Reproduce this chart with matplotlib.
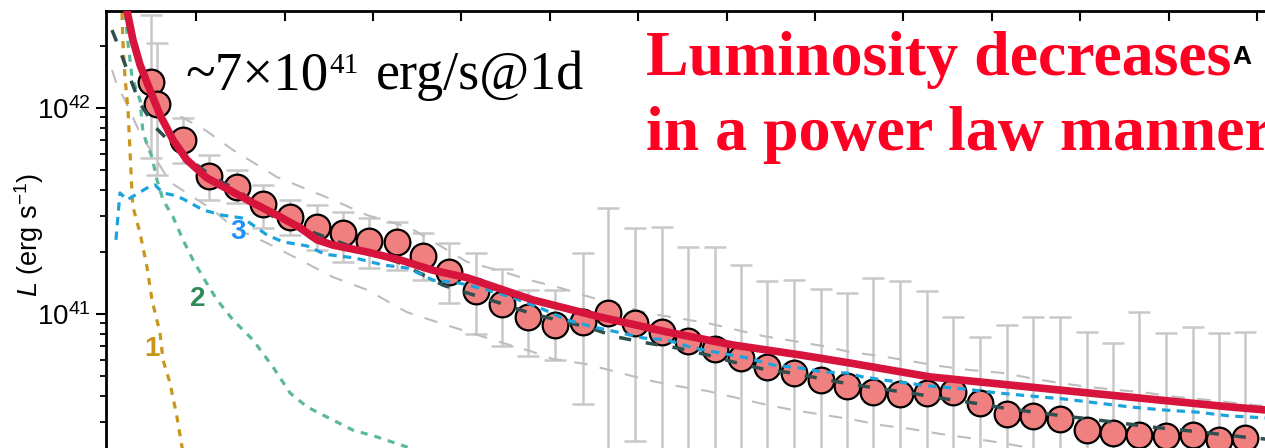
import numpy as np
import matplotlib
matplotlib.use("Agg")
import matplotlib.pyplot as plt

plt.rcParams['font.family'] = ['Liberation Sans', 'DejaVu Sans']
plt.rcParams['mathtext.fontset'] = 'custom'
plt.rcParams['mathtext.rm'] = 'Liberation Sans'
plt.rcParams['mathtext.it'] = 'Liberation Sans:italic'

UNIT = 1e41  # erg/s

# observed light curve (L in units of 1e41 erg/s)
t_obs = [4.9, 5.6, 8.5, 11.5, 14.6, 17.6, 20.6, 23.7, 26.6, 29.6, 32.7, 35.7,
         38.6, 41.7, 44.6, 47.5, 50.6, 53.7, 56.6, 59.6, 62.7, 65.6, 68.7,
         71.6, 74.6, 77.6, 80.7, 83.6, 86.6, 89.6, 92.7, 95.6, 98.7, 101.7,
         104.7, 107.7, 110.8, 113.7, 116.7, 119.7, 122.8, 125.7, 128.6]
L_obs = [13.37, 10.45, 7.00, 4.68, 4.14, 3.42, 2.96, 2.64, 2.47, 2.26, 2.24,
         1.91, 1.60, 1.29, 1.12, 0.966, 0.885, 0.914, 1.01, 0.904, 0.818,
         0.740, 0.676, 0.611, 0.553, 0.518, 0.479, 0.447, 0.418, 0.409,
         0.414, 0.418, 0.370, 0.327, 0.320, 0.309, 0.274, 0.264, 0.259,
         0.256, 0.259, 0.244, 0.250]
L_hi = [28.3, 20.7, 8.94, 5.91, 5.00, 4.23, 3.58, 3.38, 3.13, 2.92, 2.80,
        2.47, 2.21, 1.98, 1.65, 1.31, 1.31, 1.98, 3.27, 2.62, 2.64, 2.11,
        2.11, 1.73, 1.45, 1.46, 1.32, 1.26, 1.50, 1.45, 1.29, 0.967, 0.773,
        0.884, 0.967, 0.967, 0.818, 0.723, 1.02, 0.809, 0.865, 0.809, 0.818]
L_lo = [5.72, 4.73, 5.41, 3.58, 3.46, 2.62, 2.42, 2.05, 1.79, 1.67, 1.63,
        1.46, 1.13, 0.800, 0.699, 0.625, 0.598, 0.366, 0.15, 0.242, 0.15,
        0.15, 0.15, 0.15, 0.15, 0.15, 0.15, 0.15, 0.12, 0.12, 0.12, 0.12,
        0.10, 0.10, 0.10, 0.10, 0.10, 0.10, 0.10, 0.10, 0.10, 0.10, 0.10]

# best-fit power law
t_fit = [1.6, 2.18, 2.85, 3.65, 4.78, 5.91, 7.38, 8.96, 11.23, 14.17, 16.43,
         19.14, 21.75, 23.67, 25.48, 29.33, 33.06, 36.79, 40.64, 48.1, 55.68,
         63.26, 70.73, 78.3, 83.96, 93.0, 104.3, 115.6, 126.9, 131.0]
L_fit = [41.8, 29.6, 21.4, 16.2, 12.2, 9.25, 7.0, 5.59, 4.57, 3.91, 3.46,
         3.02, 2.62, 2.29, 2.16, 2.00, 1.83, 1.63, 1.50, 1.17, 0.967, 0.818,
         0.707, 0.633, 0.578, 0.495, 0.442, 0.395, 0.354, 0.342]

# total model
t_tot = [0.48, 1.16, 2.51, 3.65, 5.46, 8.17, 11.56, 14.96, 18.92, 23.10,
         28.53, 33.06, 37.92, 41.32, 44.37, 47.76, 50.82, 54.21, 57.6, 61.0,
         64.4, 67.8, 70.73, 74.57, 77.5, 80.9, 83.96, 87.4, 90.75, 94.1, 97.9,
         101.3, 104.7, 108.1, 111.1, 114.5, 117.9, 121.6, 124.7, 128.4, 131.0]
L_tot = [23.9, 20.2, 14.0, 10.5, 8.0, 6.11, 4.73, 3.91, 2.92, 2.50, 2.05,
         1.77, 1.38, 1.24, 1.13, 1.01, 0.935, 0.865, 0.773, 0.723, 0.684,
         0.633, 0.585, 0.535, 0.517, 0.483, 0.457, 0.433, 0.414, 0.391,
         0.370, 0.350, 0.334, 0.320, 0.309, 0.296, 0.283, 0.273, 0.264,
         0.253, 0.247]

# model uncertainty envelope
t_up = [5.91, 7.94, 11.0, 14.17, 19.14, 25.48, 29.33, 34.19, 40.64, 44.37,
        47.76, 51.16, 54.21, 57.6, 61.0, 64.4, 67.8, 71.2, 74.1, 77.5, 80.9,
        83.96, 87.4, 90.75, 94.1, 97.5, 101.3, 104.3, 107.7, 111.1, 114.2,
        117.6, 121.0, 124.7, 128.4, 131.0]
L_up = [10.9, 9.25, 7.82, 6.25, 4.62, 3.58, 3.02, 2.62, 1.79, 1.62, 1.46,
        1.34, 1.22, 1.11, 1.01, 0.956, 0.904, 0.836, 0.782, 0.740, 0.699,
        0.654, 0.625, 0.591, 0.559, 0.535, 0.517, 0.489, 0.462, 0.442,
        0.428, 0.414, 0.395, 0.382, 0.366, 0.357]
t_low = [0.48, 1.04, 1.95, 3.65, 7.04, 9.3, 11.9, 14.17, 18.01, 21.75,
         25.48, 29.33, 33.85, 37.92, 44.71, 47.76, 50.37, 53.99, 57.6, 61.0,
         64.4, 67.8, 71.2, 74.1, 77.5, 80.9, 83.96, 87.4, 90.75, 94.1, 97.5,
         101.3, 105.5, 112.2]
L_low = [15.3, 12.9, 10.9, 7.56, 4.37, 3.78, 3.20, 2.64, 2.21, 1.83, 1.51,
         1.31, 1.02, 0.894, 0.723, 0.661, 0.605, 0.572, 0.523, 0.478, 0.447,
         0.423, 0.391, 0.366, 0.342, 0.324, 0.309, 0.289, 0.277, 0.262,
         0.250, 0.236, 0.219, 0.195]

# individual components
t_c1 = [1.5, 1.61, 1.72, 1.95, 2.29, 2.51, 2.74, 2.85, 3.65, 4.44, 5.0,
        5.91, 6.25, 7.04, 7.83, 8.4, 8.85]
L_c1 = [35.4, 28.9, 20.7, 14.1, 9.78, 6.25, 3.87, 3.31, 2.47, 1.69, 1.17,
        0.809, 0.598, 0.462, 0.316, 0.226, 0.175]
t_c2 = [1.61, 1.95, 2.29, 2.74, 3.65, 3.99, 5.0, 5.57, 6.25, 7.38, 8.51,
        9.64, 10.77, 12.36, 14.17, 16.43, 18.69, 20.61, 22.54, 24.8, 27.74,
        30.46, 33.85, 37.58]
L_c2 = [35.4, 28.9, 20.7, 14.1, 10.9, 7.56, 5.78, 4.47, 3.58, 2.96, 2.29,
        1.83, 1.51, 1.17, 0.935, 0.748, 0.553, 0.414, 0.354, 0.316, 0.273,
        0.253, 0.226, 0.195]
t_c3 = [0.93, 1.16, 1.38, 2.18, 2.74, 4.44, 5.34, 6.25, 7.38, 8.51, 10.77,
        12.92, 15.3, 18.01, 19.82, 22.54, 24.57, 27.97, 31.13, 33.96, 36.79,
        39.84, 42.9, 45.84, 48.9, 51.95, 54.9, 57.6, 60.55, 63.26, 66.2,
        69.26, 72.3, 75.3, 78.3, 80.9, 83.6, 85.4, 89.3, 93.0, 96.75, 100.6,
        104.3, 108.1, 111.9, 115.6, 119.4, 123.2, 126.9, 131.0]
L_c3 = [2.29, 3.02, 3.87, 3.58, 3.70, 4.09, 4.23, 3.87, 3.78, 3.62, 3.20,
        3.02, 2.92, 2.42, 2.24, 2.14, 1.95, 1.87, 1.73, 1.67, 1.46, 1.41,
        1.31, 1.20, 1.07, 0.935, 0.865, 0.818, 0.765, 0.748, 0.684, 0.647,
        0.612, 0.565, 0.547, 0.523, 0.517, 0.495, 0.468, 0.447, 0.433,
        0.414, 0.400, 0.387, 0.370, 0.354, 0.342, 0.334, 0.320, 0.313]

comp_labels = ['1', '2', '3']
comp_label_t = [5.0, 10.2, 14.7]
comp_label_L = [0.676, 1.18, 2.50]
comp_colors = ['#C8961C', '#5BB89A', '#1CA3DB']
comp_label_colors = ['#C8961C', '#2E8B57', '#1E90FF']


def sc(vals):
    return np.asarray(vals) * UNIT


W, H = 1265, 448
fig = plt.figure(figsize=(W / 100, H / 100), dpi=100)
ax = fig.add_axes([106 / W, 0, 1159 / W, 437 / H])

L_obs_a = sc(L_obs)
yerr = [L_obs_a - sc(L_lo), sc(L_hi) - L_obs_a]
ax.errorbar(t_obs, L_obs_a, yerr=yerr, fmt='none', ecolor='#C8C8C8',
            elinewidth=1.8, capsize=8, capthick=1.8, zorder=1)

ax.plot(t_up, sc(L_up), color='#BDBDBD', lw=1.5, dashes=(6.5, 6), zorder=2)
ax.plot(t_low, sc(L_low), color='#BDBDBD', lw=1.5, dashes=(6.5, 6), zorder=2)

ax.plot(t_c1, sc(L_c1), color=comp_colors[0], lw=2.3, dashes=(2.2, 2.2), zorder=3)
ax.plot(t_c2, sc(L_c2), color=comp_colors[1], lw=2.3, dashes=(2.2, 2.2), zorder=3)

ax.plot(t_obs, L_obs_a, 'o', ms=18.5, mfc='#F08080', mec='black', mew=1.6,
        zorder=4)

ax.plot(t_tot, sc(L_tot), color='#2F4F4F', lw=2.5, dashes=(3.5, 4.3), zorder=5)
ax.plot(t_c3, sc(L_c3), color=comp_colors[2], lw=2.3, dashes=(2.6, 2.0), zorder=5)
ax.plot(t_fit, sc(L_fit), color='#D7143C', lw=5.5, solid_capstyle='round',
        zorder=6)

for lab, t, L, c in zip(comp_labels, comp_label_t, comp_label_L, comp_label_colors):
    ax.text(t, L * UNIT, lab, color=c, fontsize=20, fontweight='bold',
            ha='center', va='center', zorder=7)

ax.set_yscale('log')
ax.set_xlim(-0.2, 130.9)
ax.set_ylim(0.2236 * UNIT, 29.57 * UNIT)
ax.set_xticks(np.arange(10, 131, 10))

ax.spines['right'].set_visible(False)
ax.spines['bottom'].set_visible(False)
ax.spines['top'].set_linewidth(2)
ax.spines['left'].set_linewidth(2)
ax.tick_params(axis='x', which='both', bottom=False, top=True, labelbottom=False,
               direction='in', length=7, width=1.5)
ax.tick_params(axis='y', which='major', direction='out', length=7, width=1.5,
               labelsize=20, pad=4)
ax.tick_params(axis='y', which='minor', direction='out', length=4.3, width=1.3)

ax.set_ylabel(r'$L$ (erg s$^{-1}$)', fontsize=19.5)
ax.yaxis.label.set_va('center')
ax.yaxis.set_label_coords(-0.0664, 0.487)


def fpos(x, y):
    return x / W, 1 - y / H


serif = ['Liberation Serif', 'DejaVu Serif']
fig.text(*fpos(185, 89), '~7\u00d710', family=serif, fontsize=39.5, va='baseline')
fig.text(*fpos(329, 73), '41', family=serif, fontsize=21, va='baseline')
fig.text(*fpos(376, 89), 'erg/s@1d', family=serif, fontsize=39, va='baseline')

red = '#FF0022'
fig.text(*fpos(646, 75), 'Luminosity decreases', family=serif, fontsize=46.0,
         fontweight='bold', color=red, va='baseline', zorder=2)
fig.text(*fpos(646, 150), 'in a power law manner', family=serif, fontsize=46.0,
         fontweight='bold', color=red, va='baseline', zorder=2)
fig.text(*fpos(1232, 64), 'A', fontsize=19, fontweight='bold', va='baseline',
         zorder=3)

fig.savefig('out.png', dpi=100)
